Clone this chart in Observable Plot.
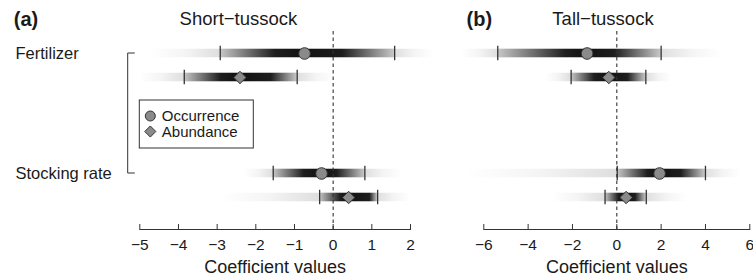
<!DOCTYPE html>
<html>
<head>
<meta charset="utf-8">
<script src="https://cdn.jsdelivr.net/npm/d3@7"></script>
<script src="https://cdn.jsdelivr.net/npm/@observablehq/plot@0.6"></script>
<style>
  body { margin: 0; background: #fff; }
  #chart { position: relative; width: 753px; height: 280px; }
  #chart svg { position: absolute; top: 0; overflow: visible; }
</style>
</head>
<body>
<div id="chart"></div>
<script>
// ---- data ----
const rows = ["Fertilizer", "Stocking rate"];
const responses = ["Occurrence", "Abundance"];
// order: Fertilizer-Occurrence, Fertilizer-Abundance, Stocking-Occurrence, Stocking-Abundance
const shortMedian = [-0.74, -2.41, -0.30, 0.40];
const shortCiLo   = [-2.92, -3.85, -1.55, -0.35];
const shortCiHi   = [1.59, -0.93, 0.82, 1.15];
const shortCoreLo = [-1.5, -2.9, -0.75, 0.2];
const shortCoreHi = [0.25, -1.6, 0.1, 0.95];
const shortTailLo = [-4.7, -5.0, -2.3, -2.9];
const shortTailHi = [2.6, 0.05, 1.8, 2.0];

const tallMedian = [-1.34, -0.36, 1.93, 0.42];
const tallCiLo   = [-5.37, -2.06, 0.02, -0.53];
const tallCiHi   = [2.0, 1.31, 4.0, 1.33];
const tallCoreLo = [-2.3, -1.0, 1.4, 0.1];
const tallCoreHi = [-0.1, 0.5, 2.9, 0.85];
const tallTailLo = [-7.0, -3.2, -6.8, -2.9];
const tallTailHi = [4.8, 2.5, 5.6, 3.2];

const shortTicks = [-5, -4, -3, -2, -1, 0, 1, 2];
const tallTicks = [-6, -4, -2, 0, 2, 4, 6];
const titles = ["Short\u2212tussock", "Tall\u2212tussock"];
const panelTags = ["(a)", "(b)"];
const axisLabel = "Coefficient values";

// ---- build ----
const keys = [0, 1, 2, 3].map(i => rows[Math.floor(i / 2)] + "|" + responses[i % 2]);
const yDomain = [keys[0], keys[1], "gap1", "gap2", "gap3", keys[2], keys[3]];
const FONT = "'Liberation Sans', Arial, Helvetica, sans-serif";
const INK = "#1a1a1a";
const fmt = d => d < 0 ? "\u2212" + Math.abs(d) : String(d);

function defsMark(prefix, s) {
  return () => {
    const defs = d3.create("svg:defs");
    for (let i = 0; i < 4; i++) {
      // outer faint tails
      const o = defs.append("linearGradient").attr("id", `${prefix}-o-${i}`)
        .attr("x1", 0).attr("x2", 1).attr("y1", 0).attr("y2", 0);
      const span = s.tailHi[i] - s.tailLo[i];
      const oLo = (s.ciLo[i] - s.tailLo[i]) / span;
      const oHi = (s.ciHi[i] - s.tailLo[i]) / span;
      [[0, "#ffffff"], [oLo * 0.5, "#f4f4f4"], [oLo, "#dedede"], [oHi, "#dedede"],
       [oHi + (1 - oHi) * 0.5, "#f4f4f4"], [1, "#ffffff"]]
        .forEach(([off, c]) => o.append("stop").attr("offset", off).attr("stop-color", c));
      // inner credible interval
      const g = defs.append("linearGradient").attr("id", `${prefix}-i-${i}`)
        .attr("x1", 0).attr("x2", 1).attr("y1", 0).attr("y2", 0);
      const w = s.ciHi[i] - s.ciLo[i];
      const f = v => Math.max(0, Math.min(1, (v - s.ciLo[i]) / w));
      [[0, "#c8c8c8"], [f(s.coreLo[i]), "#1e1e1e"], [f(s.median[i]), "#111111"],
       [f(s.coreHi[i]), "#1e1e1e"], [1, "#c8c8c8"]]
        .forEach(([off, c]) => g.append("stop").attr("offset", off).attr("stop-color", c));
    }
    return defs.node();
  };
}

function panel(opts) {
  const { prefix, s, ticks, domain, width, marginLeft, marginRight, title, titleDx, tag, tagDx, extra } = opts;
  const idx = [0, 1, 2, 3];
  const marks = [defsMark(prefix, s)];
  const barInset = (24.5 - 9) / 2;
  for (const i of idx) {
    marks.push(Plot.barX([i], {x1: d => s.tailLo[d], x2: d => s.tailHi[d], y: d => keys[d],
      fill: `url(#${prefix}-o-${i})`, insetTop: barInset, insetBottom: barInset}));
    marks.push(Plot.barX([i], {x1: d => s.ciLo[d], x2: d => s.ciHi[d], y: d => keys[d],
      fill: `url(#${prefix}-i-${i})`, insetTop: barInset, insetBottom: barInset}));
  }
  marks.push(
    Plot.ruleX([0], {stroke: "#333", strokeWidth: 1.1, strokeDasharray: "3.5,3"}),
    Plot.tickX(idx, {x: d => s.ciLo[d], y: d => keys[d], stroke: "#333", strokeWidth: 1.3, insetTop: 4.75, insetBottom: 4.75}),
    Plot.tickX(idx, {x: d => s.ciHi[d], y: d => keys[d], stroke: "#333", strokeWidth: 1.3, insetTop: 4.75, insetBottom: 4.75}),
    Plot.dot(idx.filter(i => i % 2 === 0), {x: d => s.median[d], y: d => keys[d], r: 5.8,
      fill: "#8a8a8a", stroke: "#333", strokeWidth: 1}),
    Plot.dot(idx.filter(i => i % 2 === 1), {x: d => s.median[d], y: d => keys[d], r: 5.6, symbol: "diamond2",
      fill: "#8a8a8a", stroke: "#333", strokeWidth: 1}),
    Plot.frame({anchor: "bottom", stroke: "#333", strokeWidth: 1}),
    Plot.ruleX(ticks, {x: d => d, stroke: "#333", strokeWidth: 1, insetTop: 193}),
    Plot.text(ticks, {x: d => d, frameAnchor: "bottom", text: fmt, dy: 16, lineAnchor: "middle",
      fontSize: 15.5, fill: INK}),
    Plot.text([axisLabel], {frameAnchor: "bottom", text: d => d, dy: 37.5, lineAnchor: "middle",
      fontSize: 18, fill: INK}),
    Plot.text([title], {frameAnchor: "top", text: d => d, dx: titleDx, dy: -12, lineAnchor: "middle",
      fontSize: 18.5, fill: INK}),
    Plot.text([tag], {frameAnchor: "top-left", text: d => d, dx: tagDx, dy: -12, lineAnchor: "middle",
      textAnchor: "start", fontSize: 20, fontWeight: "bold", fill: INK})
  );
  if (extra) marks.push(...extra);
  return Plot.plot({
    width, height: 280,
    marginLeft, marginRight, marginTop: 31, marginBottom: 51,
    x: {domain, axis: null},
    y: {type: "band", domain: yDomain, range: [39.45, 210.95], padding: 0, axis: null},
    style: {fontFamily: FONT, overflow: "visible", background: "transparent", color: INK},
    marks
  });
}

// bracket + legend for panel (a)
function bracketMark(index, scales, values, dims) {
  const g = d3.create("svg:g");
  const bw = scales.y.bandwidth ? scales.y.bandwidth() : 0;
  const yTop = scales.y(keys[0]) + bw / 2;
  const yBot = scales.y(keys[2]) + bw / 2;
  const x0 = dims.marginLeft - 11.6, x1 = dims.marginLeft - 4.5;
  g.append("path").attr("d", `M${x1},${yTop}H${x0}V${yBot}H${x1}`)
    .attr("fill", "none").attr("stroke", "#333").attr("stroke-width", 1);
  // legend
  const lx = dims.marginLeft, ly = 100;
  const lg = g.append("g").attr("font-family", FONT).attr("font-size", 15).attr("fill", INK)
    .attr("text-anchor", "start");
  lg.append("rect").attr("x", lx).attr("y", ly).attr("width", 114).attr("height", 48)
    .attr("fill", "#fff").attr("stroke", "#333").attr("stroke-width", 1);
  lg.append("circle").attr("cx", lx + 11).attr("cy", ly + 16).attr("r", 5)
    .attr("fill", "#8a8a8a").attr("stroke", "#333");
  lg.append("path").attr("transform", `translate(${lx + 11},${ly + 31.5})`)
    .attr("d", d3.symbol(d3.symbolDiamond2, 5 * 5 * Math.PI)())
    .attr("fill", "#8a8a8a").attr("stroke", "#333");
  lg.append("text").attr("x", lx + 22.5).attr("y", ly + 16).attr("dy", "0.35em").text(responses[0]);
  lg.append("text").attr("x", lx + 22.5).attr("y", ly + 31.5).attr("dy", "0.35em").text(responses[1]);
  return g.node();
}

const rowLabels = Plot.text([keys[0], keys[2]], {y: d => d, text: d => d.split("|")[0],
  frameAnchor: "left", dx: 15 - 139.3, textAnchor: "start", lineAnchor: "middle", fontSize: 16.5, fill: INK});

const svgA = panel({
  prefix: "pa",
  s: {median: shortMedian, ciLo: shortCiLo, ciHi: shortCiHi, coreLo: shortCoreLo, coreHi: shortCoreHi,
      tailLo: shortTailLo, tailHi: shortTailHi},
  ticks: shortTicks, domain: [-5, 2], width: 440, marginLeft: 139.3, marginRight: 30,
  title: titles[0], titleDx: -36.7, tag: panelTags[0], tagDx: -126,
  extra: [rowLabels, bracketMark]
});
const svgB = panel({
  prefix: "pb",
  s: {median: tallMedian, ciLo: tallCiLo, ciHi: tallCiHi, coreLo: tallCoreLo, coreHi: tallCoreHi,
      tailLo: tallTailLo, tailHi: tallTailHi},
  ticks: tallTicks, domain: [-6, 6], width: 313, marginLeft: 43.3, marginRight: 3.7,
  title: titles[1], titleDx: -13.8, tag: panelTags[1], tagDx: -17.3
});
svgA.style.left = "0px";
svgB.style.left = "440px";
const chart = document.getElementById("chart");
chart.append(svgA, svgB);
</script>
</body>
</html>
